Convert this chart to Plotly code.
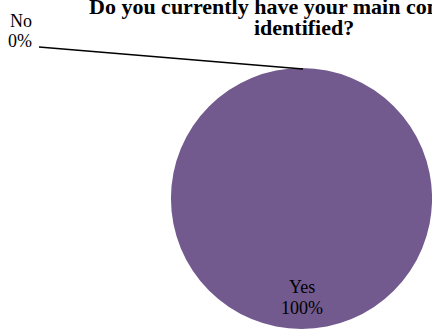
import plotly.graph_objects as go

labels = ["Yes", "No"]
values = [100, 0]
percents = ["100%", "0%"]
colors = ["#725A8F", "#4F81BD"]
title_lines = ["Do you currently have your main competitors", "identified?"]

W, H = 432, 329


def px(x):
    return x / W


def py(y):
    return 1 - y / H


fig = go.Figure()
fig.add_trace(go.Pie(
    labels=labels, values=values, sort=False, direction="clockwise", rotation=0,
    marker=dict(colors=colors, line=dict(width=0)),
    textinfo="none", hoverinfo="label+percent", showlegend=False,
    domain=dict(x=[171 / W, 1.0], y=[0.0, 261 / H]),
))

serif = "Liberation Serif, Times New Roman, serif"
font = dict(family=serif, size=18, color="#000000")

# Yes label inside pie (two lines)
fig.add_annotation(x=px(302), y=py(287), xref="paper", yref="paper", text=labels[0],
                   showarrow=False, font=font, xanchor="center", yanchor="middle")
fig.add_annotation(x=px(302), y=py(308), xref="paper", yref="paper", text=percents[0],
                   showarrow=False, font=font, xanchor="center", yanchor="middle")
# No label (two lines)
fig.add_annotation(x=px(21), y=py(21), xref="paper", yref="paper", text=labels[1],
                   showarrow=False, font=font, xanchor="center", yanchor="middle")
fig.add_annotation(x=px(20), y=py(41), xref="paper", yref="paper", text=percents[1],
                   showarrow=False, font=font, xanchor="center", yanchor="middle")
# leader line
fig.add_shape(type="line", xref="paper", yref="paper",
              x0=px(39), y0=py(47), x1=px(303), y1=py(69),
              line=dict(color="#000000", width=1.5))
# Title (two lines)
tfont = dict(family=serif, size=22, color="#000000")
fig.add_annotation(x=px(303), y=py(6.5), xref="paper", yref="paper",
                   text=f"<b>{title_lines[0]}</b>", showarrow=False, font=tfont,
                   xanchor="center", yanchor="middle")
fig.add_annotation(x=px(304), y=py(27.5), xref="paper", yref="paper",
                   text=f"<b>{title_lines[1]}</b>", showarrow=False, font=tfont,
                   xanchor="center", yanchor="middle")

fig.update_layout(width=W, height=H, margin=dict(l=0, r=0, t=0, b=0),
                  paper_bgcolor="white", plot_bgcolor="white")
fig.write_html("out.html", config={"displayModeBar": False},
               post_script="document.body.style.margin='0';")
